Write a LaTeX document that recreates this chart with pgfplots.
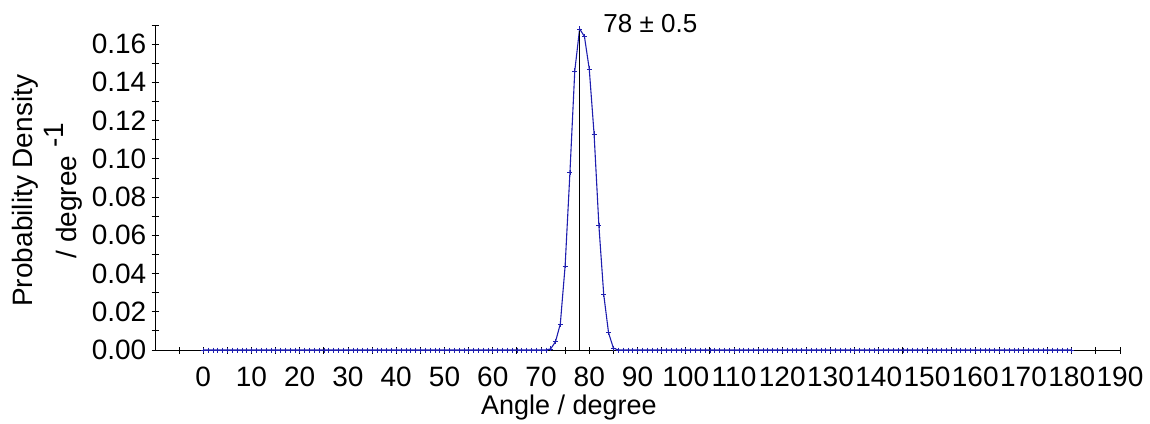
\documentclass[border=0pt]{standalone}
\usepackage{pgfplots}
\pgfplotsset{compat=1.18}
\usepackage{fontspec}
\setmainfont{Liberation Sans}
\definecolor{dblue}{RGB}{30,30,175}
\begin{document}
\fontsize{26}{30}\selectfont
\begin{tikzpicture}
\useasboundingbox (0,0) rectangle (1150pt,423pt);
\begin{axis}[
  at={(155pt,73pt)}, anchor=south west,
  scale only axis, width=965pt, height=325pt,
  xmin=-10, xmax=190, ymin=0, ymax=0.17,
  axis x line*=bottom, axis y line*=left,
  axis line style={black, line width=0.9pt},
  xtick={0,10,...,190}, minor xtick={-5,5,...,185},
  ytick={0,0.02,...,0.161}, minor ytick={0.01,0.03,...,0.161},
  tick align=center,
  major tick length=7pt, minor tick length=7pt,
  tick style={black, line width=0.8pt},
  /pgf/number format/assume math mode=true,
  yticklabel style={/pgf/number format/fixed, /pgf/number format/fixed zerofill, /pgf/number format/precision=2},
  scaled y ticks=false,
  ticklabel style={font=\fontsize{28}{32}\selectfont},
  yticklabel style={inner sep=0pt, xshift=-5pt},
  xticklabel style={inner sep=0pt, yshift=-13pt},
  xlabel={Angle / degree},
  xlabel style={at={(axis description cs:0.429,-0.197)}, anchor=base, font=\fontsize{27}{30}\selectfont},
  ylabel={Probability Density\\[12pt]/ degree \smash{\raisebox{0.45em}{-1}}},
  ylabel style={at={(axis description cs:-0.112,0.49)}, anchor=center, align=center, font=\fontsize{28}{32}\selectfont},
  clip=false,
]
\addplot[dblue, line width=1.1pt, mark=+, mark size=2.5pt, mark options={line width=0.6pt}] coordinates {
(0,0)(1,0)(2,0)(3,0)(4,0)(5,0)(6,0)(7,0)(8,0)(9,0)
(10,0)(11,0)(12,0)(13,0)(14,0)(15,0)(16,0)(17,0)(18,0)(19,0)
(20,0)(21,0)(22,0)(23,0)(24,0)(25,0)(26,0)(27,0)(28,0)(29,0)
(30,0)(31,0)(32,0)(33,0)(34,0)(35,0)(36,0)(37,0)(38,0)(39,0)
(40,0)(41,0)(42,0)(43,0)(44,0)(45,0)(46,0)(47,0)(48,0)(49,0)
(50,0)(51,0)(52,0)(53,0)(54,0)(55,0)(56,0)(57,0)(58,0)(59,0)
(60,0)(61,0)(62,0)(63,0)(64,0)(65,0)(66,0)(67,0)(68,0)(69,0)
(70,0)(71,0)(72,0.0006)(73,0.0043)(74,0.0136)(75,0.044)(76,0.093)(77,0.146)(78,0.168)(79,0.164)
(80,0.147)(81,0.113)(82,0.065)(83,0.029)(84,0.009)(85,0.001)(86,0)(87,0)(88,0)(89,0)
(90,0)(91,0)(92,0)(93,0)(94,0)(95,0)(96,0)(97,0)(98,0)(99,0)
(100,0)(101,0)(102,0)(103,0)(104,0)(105,0)(106,0)(107,0)(108,0)(109,0)
(110,0)(111,0)(112,0)(113,0)(114,0)(115,0)(116,0)(117,0)(118,0)(119,0)
(120,0)(121,0)(122,0)(123,0)(124,0)(125,0)(126,0)(127,0)(128,0)(129,0)
(130,0)(131,0)(132,0)(133,0)(134,0)(135,0)(136,0)(137,0)(138,0)(139,0)
(140,0)(141,0)(142,0)(143,0)(144,0)(145,0)(146,0)(147,0)(148,0)(149,0)
(150,0)(151,0)(152,0)(153,0)(154,0)(155,0)(156,0)(157,0)(158,0)(159,0)
(160,0)(161,0)(162,0)(163,0)(164,0)(165,0)(166,0)(167,0)(168,0)(169,0)
(170,0)(171,0)(172,0)(173,0)(174,0)(175,0)(176,0)(177,0)(178,0)(179,0)
(180,0)
};
\addplot[black, line width=0.8pt] coordinates {(78,0) (78,0.168)};
\node[anchor=base west, inner sep=0pt, font=\fontsize{26}{30}\selectfont] at (axis cs:82.9,0.166) {78 ± 0.5};
\end{axis}
\end{tikzpicture}
\end{document}
